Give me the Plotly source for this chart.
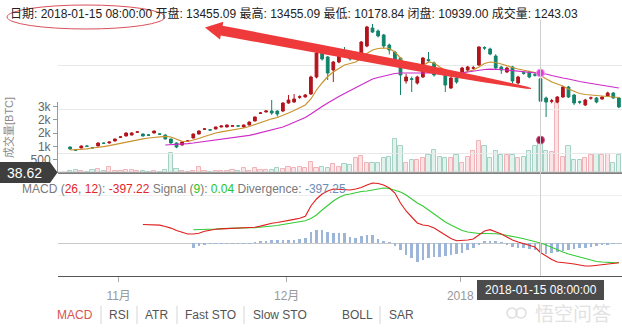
import pandas as pd
import plotly.graph_objects as go

# ---------------- data ----------------
dates = pd.date_range("2017-10-23 08:00", periods=99, freq="D")

open_ = [5785, 5470, 5673, 5890, 5720, 5898, 6220, 6235, 6459, 6880,
         7021, 7134, 7450, 7246, 7150, 7358, 7260, 7134, 6684, 6235,
         6010, 6440, 6797, 7246, 7790, 7710, 7808, 8033, 8033, 8120,
         8160, 8033, 8258, 8707, 9580, 9719, 9831, 9831, 9831, 10731,
         10843, 11380, 11405, 11742, 13653, 16463, 15901, 14440, 15339, 16351,
         16126, 16200, 16351, 17137, 19161, 18823, 18374, 17250, 16463, 15789,
         13203, 13450, 12979, 13653, 15600, 15227, 14260, 14103, 12417, 13541,
         13653, 14440, 14650, 15002, 16950, 16800, 16013, 14777, 14215, 14777,
         12979, 14130, 14215, 13900, 13455.09, 11293, 10930, 10843, 11405, 12529,
         11630, 10870, 10506, 11280, 11293, 11180, 11517, 11855, 11293]
high = [5850, 5520, 5950, 5950, 5780, 6300, 6300, 6400, 6720, 6980,
        7420, 7450, 7520, 7300, 7200, 7620, 7300, 7200, 6720, 6300,
        6400, 6520, 7300, 7650, 7900, 7800, 8080, 8200, 8300, 8230,
        8200, 8300, 8650, 9200, 9700, 9900, 11068, 9900, 10800, 11630,
        11742, 11600, 11750, 13800, 16500, 17025, 16000, 15450, 16500, 17025,
        16300, 16500, 17700, 19400, 19610, 19000, 18500, 17400, 16600, 15900,
        14000, 13700, 13800, 15900, 16463, 15400, 14400, 14300, 13700, 13700,
        14800, 14900, 14900, 17100, 17100, 16950, 16200, 14900, 14800, 14900,
        13800, 14300, 14350, 14100, 13455.09, 11450, 11200, 11500, 12650, 12650,
        11750, 11000, 11200, 11450, 11400, 11500, 12000, 11950, 11400]
low = [5500, 5380, 5640, 5820, 5650, 5860, 6150, 6200, 6420, 6850,
       6980, 7100, 7400, 6980, 7050, 7330, 7150, 6650, 6150, 5650,
       5950, 6400, 6760, 7200, 7700, 7650, 7780, 8000, 8000, 8080,
       8100, 8000, 8220, 8680, 9500, 9680, 9400, 9200, 9700, 10650,
       10750, 11200, 11350, 11650, 13500, 15500, 13316, 13091, 15200, 15950,
       15500, 16050, 16250, 17000, 18600, 18100, 16900, 16200, 15200, 11630,
       12900, 11967, 12800, 13550, 15300, 13700, 14000, 11967, 12300, 12900,
       13500, 14300, 14500, 14900, 16700, 16100, 14500, 14000, 14100, 12900,
       12800, 13900, 13500, 13700, 10178.84, 9157, 10700, 10700, 11300, 11300,
       10500, 10600, 10400, 11100, 10700, 11100, 11450, 11200, 10150]
close = [5560, 5430, 5898, 5870, 5690, 6235, 6200, 6347, 6684, 6920,
         7358, 7358, 7480, 7021, 7110, 7583, 7230, 6684, 6235, 5785,
         6347, 6470, 7246, 7583, 7810, 7690, 8033, 8145, 8258, 8170,
         8140, 8258, 8595, 9157, 9610, 9831, 9607, 9494, 10731, 11068,
         11180, 11420, 11630, 13653, 16351, 15676, 14103, 15339, 16351, 16126,
         15676, 16351, 17587, 19273, 18711, 18262, 17137, 16688, 15564, 13878,
         13653, 13400, 13653, 15789, 15500, 13878, 14200, 12754, 13541, 13091,
         14665, 14777, 14680, 17025, 16913, 16238, 14665, 14440, 14665, 13203,
         13653, 14080, 13653, 13860, 10939.00, 10843, 10980, 11405, 12529, 11405,
         10731, 10830, 11068, 11300, 10843, 11405, 11855, 11293, 10281]
volume = [80, 130, 60, 50, 130, 140, 60, 230, 70, 80,
          100, 110, 60, 90, 40, 60, 50, 110, 760, 150,
          60, 50, 70, 230, 60, 50, 60, 80, 90, 110,
          60, 180, 90, 190, 110, 110, 110, 190, 150, 240,
          180, 240, 180, 430, 180, 240, 180, 340, 240, 350,
          300, 565, 640, 380, 380, 380, 565, 600, 1280, 1018,
          380, 490, 490, 565, 680, 870, 600, 565, 565, 680,
          380, 600, 820, 1220, 1010, 565, 830, 680, 680, 680,
          565, 600, 830, 1018, 1243.03, 830, 790, 2650, 600, 1018,
          490, 490, 565, 680, 720, 680, 720, 380, 680]

ma_short = [5448, 5470, 5526, 5583, 5673, 5729, 5819, 5931, 6066, 6235,
            6369, 6504, 6594, 6707, 6797, 6887, 6954, 6988, 6909, 6628,
            6426, 6403, 6538, 6740, 6965, 7190, 7359, 7493, 7583, 7696,
            7808, 7921, 8089, 8314, 8539, 8764, 8955, 9101, 9326, 9607,
            9888, 10169, 10506, 11180, 12192, 12979, 13709, 14215, 14608, 15002,
            15170, 15339, 15789, 16294, 16688, 16856, 16913, 16856, 16463, 15789,
            14889, 14552, 14552, 14889, 15339, 15227, 14777, 14440, 14215, 14046,
            14103, 14271, 14440, 14777, 15170, 15339, 15283, 15114, 14889, 14721,
            14552, 14440, 14327, 14159, 13822, 13428, 13091, 12866, 12641, 12304,
            12023, 11798, 11686, 11630, 11574, 11517, 11461, 11405, 11349]
ma_long = [None] * 17 + [
    6010, 6032, 6066, 6100, 6167, 6235, 6313, 6392, 6471, 6549,
    6628, 6707, 6774, 6864, 6965, 7089, 7224, 7381, 7550, 7730,
    7876, 8033, 8280, 8539, 8820, 9101, 9494, 9944, 10337, 10731,
    11124, 11461, 11798, 12136, 12473, 12810, 13147, 13428, 13597, 13765,
    13934, 14046, 14103, 14125, 14125, 14103, 14103, 14103, 14080, 14069,
    14046, 14046, 14069, 14125, 14215, 14327, 14440, 14496, 14530, 14530,
    14496, 14440, 14384, 14327, 14271, 14215, 14159, 14103, 13990, 13822,
    13653, 13541, 13428, 13260, 13147, 13035, 12922, 12810, 12698, 12585,
    12473, 12417]

macd = [None] * 13 + [
    777, 777, 769, 752, 693, 626, 525, 441, 378, 378,
    407, 491, 542, 575, 592, 601, 609, 609, 617, 626,
    659, 710, 777, 827, 861, 895, 941, 991, 1042, 1126,
    1554, 1848, 2058, 2184, 2268, 2247, 2226, 2226, 2268, 2331,
    2436, 2520, 2499, 2436, 2310, 2100, 1680, 1344, 1092, 840,
    756, 727, 630, 483, 336, 189, 92, 105, 126, 168,
    336, 504, 559, 483, 378, 252, 126, 42, -21, -84,
    -168, -397.22, -546, -693, -798, -840, -853, -882, -924, -966,
    -966, -945, -924, -882, -853, -832]
signal = [None] * 22 + [
    559, 559, 559, 575, 588, 605, 617, 630, 643, 643,
    643, 643, 659, 680, 706, 735, 777, 819, 848, 882,
    932, 1029, 1176, 1386, 1596, 1764, 1911, 2016, 2058, 2121,
    2163, 2184, 2226, 2268, 2310, 2289, 2226, 2142, 2016, 1848,
    1680, 1554, 1386, 1218, 1050, 882, 756, 630, 525, 462,
    420, 399, 399, 399, 386, 365, 328, 281, 231, 181,
    126, 63, 0.04, -84, -189, -294, -378, -462, -525, -609,
    -672, -735, -777, -798, -819, -823, -827]
divergence = [None] * 22 + [
    -190, -120, -60, -30, -15, -10, -15, -20, -25, -20,
    -10, 20, 50, 90, 110, 120, 120, 125, 140, 160,
    200, 450, 540, 550, 480, 430, 420, 400, 250, 230,
    300, 330, 320, 170, 60, 20, -130, -300, -500, -650,
    -780, -700, -640, -600, -600, -560, -520, -480, -400, -300,
    -220, -100, 60, 90, 80, 20, -60, -150, -190, -200,
    -240, -290, -397.25, -450, -420, -380, -330, -290, -260, -230,
    -190, -150, -120, -80, -60, -40, -20]

month_ticks = ["2017-11-01", "2017-12-01", "2018-01-01"]
month_labels = ["11月", "12月", "2018"]
vol_ticks = [500, 1000, 1500, 2000, 2500]
vol_tick_labels = ["500", "1k", "2k", "2k", "3k"]
price_grid = [5000, 10000, 15000]
macd_grid = [2000]

cursor_idx = 84
cursor_volume = 38.62
menu_items = ["MACD", "RSI", "ATR", "Fast STO", "Slow STO", "BOLL", "SAR"]

# ---------------- page geometry ----------------
W, H = 622, 331
ML, MR, MT, MB = 58, 0, 20, 55
PW, PH = W - ML - MR, H - MT - MB


def fx(px):
    return (px - ML) / PW


def fy(py):
    return (H - MB - py) / PH


FONT = "Liberation Sans, Arial, Noto Sans CJK SC, sans-serif"
RED = "#b3141d"
GREEN = "#12846b"
DAY_MS = 86400000

cursor_date = dates[cursor_idx]

fig = go.Figure()

# volume bars: first subplot, so they sit underneath the candles
vol_fill = ["#fce4e6" if c >= o else "#e2f2ec" for o, c in zip(open_, close)]
vol_line = ["#f0b3b8" if c >= o else "#a5d2c4" for o, c in zip(open_, close)]
fig.add_trace(go.Bar(
    x=dates, y=volume, yaxis="y", width=0.78 * DAY_MS,
    marker=dict(color=vol_fill, line=dict(color=vol_line, width=1)),
    showlegend=False, hoverinfo="skip"))
fig.add_trace(go.Scatter(x=[cursor_date], y=[volume[cursor_idx]], yaxis="y",
                         mode="markers",
                         marker=dict(color="#9b1746", size=8,
                                     line=dict(color="#d0608a", width=1)),
                         showlegend=False, hoverinfo="skip"))

# candles
fig.add_trace(go.Candlestick(
    x=dates, open=open_, high=high, low=low, close=close, yaxis="y2",
    increasing=dict(line=dict(color=RED, width=1), fillcolor=RED),
    decreasing=dict(line=dict(color=GREEN, width=1), fillcolor=GREEN),
    whiskerwidth=0, showlegend=False, hoverinfo="skip"))

# moving averages
fig.add_trace(go.Scatter(x=dates, y=ma_short, yaxis="y2", mode="lines",
                         line=dict(color="#c8932c", width=1.2),
                         showlegend=False, hoverinfo="skip"))
fig.add_trace(go.Scatter(x=dates, y=ma_long, yaxis="y2", mode="lines",
                         line=dict(color="#cf2bc8", width=1.2),
                         showlegend=False, hoverinfo="skip"))
fig.add_trace(go.Scatter(x=[cursor_date], y=[ma_long[cursor_idx]], yaxis="y2",
                         mode="markers",
                         marker=dict(color="#e33fd8", size=8,
                                     line=dict(color="#f59af0", width=1)),
                         showlegend=False, hoverinfo="skip"))

# MACD panel
fig.add_trace(go.Bar(x=dates, y=divergence, yaxis="y3", width=0.45 * DAY_MS,
                     marker=dict(color="#9db5d6", line=dict(width=0)),
                     showlegend=False, hoverinfo="skip"))
fig.add_trace(go.Scatter(x=dates, y=signal, yaxis="y3", mode="lines",
                         line=dict(color="#35cc35", width=1.1),
                         showlegend=False, hoverinfo="skip"))
fig.add_trace(go.Scatter(x=dates, y=macd, yaxis="y3", mode="lines",
                         line=dict(color="#e01e1e", width=1.1),
                         showlegend=False, hoverinfo="skip"))

x_left = pd.Timestamp("2017-10-21 04:08")
x_right = pd.Timestamp("2018-01-29 21:18")

fig.update_layout(
    width=W, height=H,
    margin=dict(l=ML, r=MR, t=MT, b=MB, pad=0),
    paper_bgcolor="white", plot_bgcolor="rgba(0,0,0,0)",
    font=dict(family=FONT, size=12, color="#555"),
    bargap=0,
    xaxis=dict(type="date", range=[x_left, x_right], anchor="y3",
               rangeslider=dict(visible=False),
               showline=True, linecolor="#555", linewidth=1,
               ticks="outside", ticklen=5, tickcolor="#aaa",
               tickvals=month_ticks, ticktext=month_labels,
               tickfont=dict(size=12, color="#999"),
               ticklabelstandoff=4,
               showgrid=False, zeroline=False, fixedrange=True),
    # volume scale (left)
    yaxis=dict(domain=[fy(173), fy(102)], range=[0, 2677],
               tickvals=vol_ticks, ticktext=vol_tick_labels,
               ticks="outside", ticklen=4, tickcolor="#999",
               tickfont=dict(size=12, color="#666"),
               showline=True, linecolor="#999", linewidth=1,
               showgrid=False, zeroline=False, anchor="x"),
    # price scale (labels off-screen on the right)
    yaxis2=dict(domain=[fy(173), 1], range=[2862.6, 20059.8],
                tickvals=price_grid, showticklabels=False, ticks="",
                showgrid=True, gridcolor="#e8e8e8", gridwidth=1,
                zeroline=False, showline=False, anchor="x"),
    yaxis3=dict(domain=[0, fy(178)], range=[-1386, 2730],
                tickvals=macd_grid, showticklabels=False, ticks="",
                showgrid=True, gridcolor="#efefef",
                zeroline=True, zerolinecolor="#c8c8c8", zerolinewidth=1,
                showline=False, anchor="x"),
)

shapes = []
# bottom rule of the price pane
shapes.append(dict(type="line", xref="paper", yref="paper",
                   x0=0, x1=1, y0=fy(173), y1=fy(173),
                   line=dict(color="#555", width=1.5)))
# cursor lines
shapes.append(dict(type="line", xref="x", yref="paper",
                   x0=cursor_date, x1=cursor_date, y0=0, y1=1,
                   line=dict(color="#cfcfcf", width=1)))
shapes.append(dict(type="line", xref="paper", yref="y",
                   x0=0, x1=1, y0=cursor_volume, y1=cursor_volume,
                   line=dict(color="#cfcfcf", width=1)))
# value flag on the left
flag = "M {:.4f},{:.4f} L {:.4f},{:.4f} L {:.4f},{:.4f} L {:.4f},{:.4f} L {:.4f},{:.4f} Z".format(
    fx(0), fy(162), fx(50), fy(162), fx(57.5), fy(172.5), fx(50), fy(183), fx(0), fy(183))
shapes.append(dict(type="path", xref="paper", yref="paper", path=flag,
                   fillcolor="#3e3e3e", line=dict(width=0), layer="above"))
# date flag at the bottom
shapes.append(dict(type="rect", xref="paper", yref="paper",
                   x0=fx(477), x1=fx(604), y0=fy(300), y1=fy(280),
                   fillcolor="#4b4b4b", line=dict(width=0), layer="above"))
# menu separators
for sx in [101, 137, 177, 244, 380]:
    shapes.append(dict(type="line", xref="paper", yref="paper",
                       x0=fx(sx), x1=fx(sx), y0=fy(324), y1=fy(306),
                       line=dict(color="#d5d5d5", width=1)))
# hand-drawn ellipse around the date
shapes.append(dict(type="circle", xref="paper", yref="paper",
                   x0=fx(7), x1=fx(165), y0=fy(29), y1=fy(5),
                   line=dict(color="#d9505a", width=1)))

# red pointer arrow
tip = (205.0, 27.5)
tail = (531.0, 88.5)
dx, dy = tip[0] - tail[0], tip[1] - tail[1]
ln = (dx * dx + dy * dy) ** 0.5
ux, uy = dx / ln, dy / ln
nx, ny = -uy, ux
head_len, head_hw = 17.0, 9.0
bx, by = tip[0] - head_len * ux, tip[1] - head_len * uy
# (distance from head base, half width) along the shaft
profile = [(0, 5.0), (200, 4.0), (265, 2.6), (310, 1.2), (ln - head_len, 0.5)]
upper, lower = [], []
for d, hw in profile:
    cx, cy = bx - d * ux, by - d * uy
    upper.append((cx + hw * nx, cy + hw * ny))
    lower.append((cx - hw * nx, cy - hw * ny))
pts = [tip, (bx + head_hw * nx, by + head_hw * ny)] + upper + lower[::-1] + \
      [(bx - head_hw * nx, by - head_hw * ny)]
arrow_path = "M " + " L ".join("{:.4f},{:.4f}".format(fx(p[0]), fy(p[1])) for p in pts) + " Z"
shapes.append(dict(type="path", xref="paper", yref="paper", path=arrow_path,
                   fillcolor="#ee3a3a", line=dict(width=0), layer="above"))

# watermark logo rings
for cx in [512, 521]:
    shapes.append(dict(type="circle", xref="paper", yref="paper",
                       x0=fx(cx - 5), x1=fx(cx + 5), y0=fy(318), y1=fy(308),
                       line=dict(color="#dedede", width=1.5)))
fig.update_layout(shapes=shapes)

ann = []
header = ("日期: {} 开盘: {:.2f} 最高: {:.2f} 最低: {:.2f} 闭盘: {:.2f} 成交量: {:.2f}").format(
    cursor_date.strftime("%Y-%m-%d %H:%M:%S"), open_[cursor_idx], high[cursor_idx],
    low[cursor_idx], close[cursor_idx], volume[cursor_idx])
ann.append(dict(text=header, x=fx(8), y=fy(13), xref="paper", yref="paper",
                xanchor="left", yanchor="middle", showarrow=False,
                font=dict(size=12, color="#222")))

G, R_, GR, BL = "#7a7a7a", "#e3262b", "#25c425", "#6b8db8"
legend = ("<span style='color:{G}'>MACD (</span><span style='color:{R}'>26</span>"
          "<span style='color:{G}'>, </span><span style='color:{R}'>12</span>"
          "<span style='color:{G}'>): </span><span style='color:{R}'>{m:.2f}</span>"
          "<span style='color:{G}'> Signal (</span><span style='color:{GR}'>9</span>"
          "<span style='color:{G}'>): </span><span style='color:{GR}'>{s:.2f}</span>"
          "<span style='color:{G}'> Divergence: </span><span style='color:{BL}'>{d:.2f}</span>").format(
    G=G, R=R_, GR=GR, BL=BL, m=macd[cursor_idx], s=signal[cursor_idx], d=divergence[cursor_idx])
ann.append(dict(text=legend, x=fx(20), y=fy(189), xref="paper", yref="paper",
                xanchor="left", yanchor="middle", showarrow=False,
                font=dict(size=12, color=G)))

ann.append(dict(text="成交量[BTC]", x=fx(8), y=fy(128), xref="paper", yref="paper",
                textangle=-90, xanchor="center", yanchor="middle", showarrow=False,
                font=dict(size=11, color="#8a8a8a")))
ann.append(dict(text="{:.2f}".format(cursor_volume), x=fx(24), y=fy(172.5),
                xref="paper", yref="paper", xanchor="center", yanchor="middle",
                showarrow=False, font=dict(size=14, color="white")))
ann.append(dict(text=cursor_date.strftime("%Y-%m-%d %H:%M:%S"), x=fx(540.5), y=fy(290),
                xref="paper", yref="paper", xanchor="center", yanchor="middle",
                showarrow=False, font=dict(size=12, color="white")))

menu_x = [75, 119, 156.5, 210.5, 280, 357, 401.5]
for label, mx in zip(menu_items, menu_x):
    ann.append(dict(text=label, x=fx(mx), y=fy(315), xref="paper", yref="paper",
                    xanchor="center", yanchor="middle", showarrow=False,
                    font=dict(size=12, color="#d9534f" if label == "MACD" else "#555")))

ann.append(dict(text="悟空问答", x=fx(573), y=fy(314), xref="paper", yref="paper",
                xanchor="center", yanchor="middle", showarrow=False,
                font=dict(size=19, color="#e2e2e2")))
fig.update_layout(annotations=ann)

fig.write_html("out.html")
